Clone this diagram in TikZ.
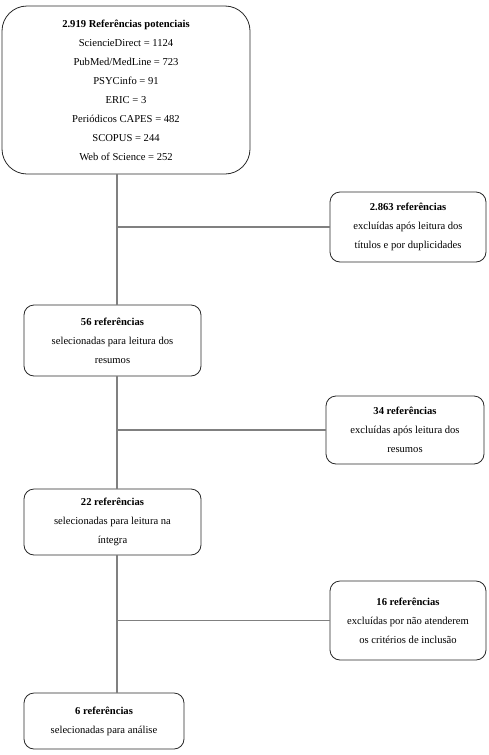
\documentclass[tikz,border=0pt]{standalone}
\usepackage{fontspec}
\setmainfont{Liberation Serif}
\definecolor{boxLine}{RGB}{40, 40, 40}
\definecolor{linkGray}{RGB}{128, 128, 128}
\usepackage{tikz}
\usetikzlibrary{positioning, calc}

\begin{document}
\begin{tikzpicture}[x=1pt, y=-1pt,
    box/.style={draw=boxLine, line width=0.8pt, rounded corners=10pt, align=center,
      inner sep=0pt, font=\fontsize{10.6}{19}\selectfont},
    link/.style={draw=linkGray, line width=1.1pt}]
    \useasboundingbox (0,0) rectangle (488,755);

    % Boxes
    \node[box, rounded corners=25pt, minimum width=248pt, minimum height=168pt] (src) at (126,90)
      {\textbf{2.919 Referências potenciais}\\ SciencieDirect = 1124\\ PubMed/MedLine = 723\\
       PSYCinfo = 91\\ ERIC = 3\\ Periódicos CAPES = 482\\ SCOPUS = 244\\ Web of Science = 252};
    \node[box, minimum width=156pt, minimum height=70pt] (exc1) at (408,227)
      {\textbf{2.863 referências}\\ excluídas após leitura dos\\ títulos e por duplicidades};
    \node[box, minimum width=177pt, minimum height=71pt] (sel1) at (112.5,340.5)
      {\textbf{56 referências}\\ selecionadas para leitura dos\\ resumos};
    \node[box, minimum width=158pt, minimum height=68pt] (exc2) at (405,430)
      {\textbf{34 referências}\\ excluídas após leitura dos\\ resumos};
    \node[box, minimum width=177pt, minimum height=66pt] (sel2) at (112.5,522)
      {\textbf{22 referências}\\ selecionadas para leitura na\\ íntegra};
    \node[box, minimum width=156pt, minimum height=79pt] (exc3) at (408,620.5)
      {\textbf{16 referências}\\ excluídas por não atenderem\\ os critérios de inclusão};
    \node[box, minimum width=160pt, minimum height=56pt] (sel3) at (104,721)
      {\textbf{6 referências}\\ selecionadas para análise};

    % Lines
    \coordinate (trunk) at (117,0);
    \draw[link] (trunk |- src.south) -- (trunk |- sel1.north);
    \draw[link] (trunk |- sel1.south) -- (trunk |- sel2.north);
    \draw[link] (trunk |- sel2.south) -- (trunk |- sel3.north);
    \foreach \ex in {exc1, exc2, exc3} {
      \draw[link] (trunk |- \ex.west) -- (\ex.west);
    }
  \end{tikzpicture}
\end{document}
